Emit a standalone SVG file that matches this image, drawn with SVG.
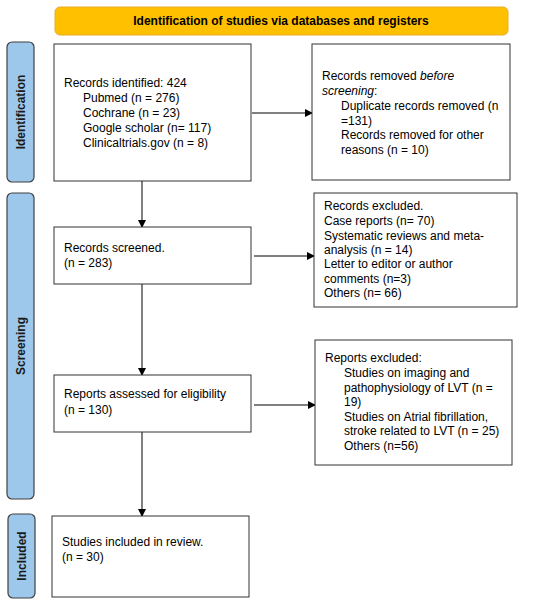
<svg xmlns="http://www.w3.org/2000/svg" width="550" height="603" viewBox="0 0 550 603">
<defs>
<marker id="arr" markerWidth="8" markerHeight="8" refX="7" refY="4" orient="auto" markerUnits="userSpaceOnUse">
<path d="M0,0 L8,4 L0,8 Z" fill="#000"/>
</marker>
</defs>
<style>
text{font-family:"Liberation Sans",Arial,sans-serif;font-size:12px;fill:#000}
.box{fill:#fff;stroke:#333;stroke-width:1}
.side{fill:#9DC8EB;stroke:#404040;stroke-width:1.2}
.sidet{font-weight:bold;font-size:12px;fill:#1a1a1a}
.conn{stroke:#000;stroke-width:1;fill:none}
.it{font-style:italic}
</style>
<rect width="550" height="603" fill="#fff"/>
<g id="banner">
<rect x="55" y="7" width="453" height="28" rx="5" fill="#FFC000" stroke="#E8AC2A" stroke-width="1"/>
<text x="281" y="25" text-anchor="middle" font-weight="bold">Identification of studies via databases and registers</text>
</g>
<g id="lane-identification">
<rect class="side" x="7" y="42" width="27" height="140" rx="5"/>
<text class="sidet" transform="translate(25,112) rotate(-90)" text-anchor="middle">Identification</text>
</g>
<g id="lane-screening">
<rect class="side" x="7" y="193" width="27" height="306" rx="5"/>
<text class="sidet" transform="translate(25,346) rotate(-90)" text-anchor="middle">Screening</text>
</g>
<g id="lane-included">
<rect class="side" x="8" y="514" width="27" height="84" rx="5"/>
<text class="sidet" transform="translate(26,556) rotate(-90)" text-anchor="middle">Included</text>
</g>
<g id="connectors">
<line class="conn" x1="252" y1="113" x2="312" y2="113" marker-end="url(#arr)"/>
<line class="conn" x1="142" y1="181" x2="142" y2="227" marker-end="url(#arr)"/>
<line class="conn" x1="254" y1="256" x2="314" y2="256" marker-end="url(#arr)"/>
<line class="conn" x1="142" y1="284" x2="142" y2="375" marker-end="url(#arr)"/>
<line class="conn" x1="254" y1="405" x2="315" y2="405" marker-end="url(#arr)"/>
<line class="conn" x1="142" y1="432" x2="142" y2="516" marker-end="url(#arr)"/>
</g>
<g id="records-identified">
<rect class="box" x="54" y="44" width="197" height="137"/>
<text x="64" y="87">Records identified: 424</text>
<text x="83" y="102">Pubmed (n = 276)</text>
<text x="83" y="117">Cochrane (n = 23)</text>
<text x="83" y="132">Google scholar (n= 117)</text>
<text x="83" y="147">Clinicaltrials.gov (n = 8)</text>
</g>
<g id="records-removed">
<rect class="box" x="312" y="44" width="198" height="136"/>
<text x="322" y="80">Records removed <tspan class="it">before</tspan></text>
<text x="322" y="95" class="it">screening<tspan font-style="normal">:</tspan></text>
<text x="341" y="110">Duplicate records removed (n</text>
<text x="341" y="124.5">=131)</text>
<text x="341" y="139">Records removed for other</text>
<text x="341" y="153.5">reasons (n = 10)</text>
</g>
<g id="records-screened">
<rect class="box" x="54" y="227" width="197" height="57"/>
<text x="64" y="252">Records screened.</text>
<text x="64" y="267">(n = 283)</text>
</g>
<g id="records-excluded">
<rect class="box" x="314" y="193" width="203" height="114"/>
<text x="324" y="210">Records excluded.</text>
<text x="324" y="225">Case reports (n= 70)</text>
<text x="324" y="239.5">Systematic reviews and meta-</text>
<text x="324" y="253.5">analysis (n = 14)</text>
<text x="324" y="268">Letter to editor or author</text>
<text x="324" y="282.5">comments (n=3)</text>
<text x="324" y="297">Others (n= 66)</text>
</g>
<g id="reports-assessed">
<rect class="box" x="54" y="375" width="197" height="57"/>
<text x="64" y="398">Reports assessed for eligibility</text>
<text x="64" y="414">(n = 130)</text>
</g>
<g id="reports-excluded">
<rect class="box" x="315" y="340" width="197" height="125"/>
<text x="325" y="362">Reports excluded:</text>
<text x="344" y="377">Studies on imaging and</text>
<text x="344" y="391.5">pathophysiology of LVT (n =</text>
<text x="344" y="406">19)</text>
<text x="344" y="420.5">Studies on Atrial fibrillation,</text>
<text x="344" y="435">stroke related to LVT (n = 25)</text>
<text x="344" y="450">Others (n=56)</text>
</g>
<g id="studies-included">
<rect class="box" x="52" y="516" width="197" height="81"/>
<text x="62" y="546">Studies included in review.</text>
<text x="62" y="561">(n = 30)</text>
</g>
</svg>
